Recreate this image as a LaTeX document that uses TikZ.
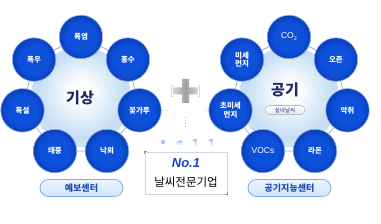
\documentclass[tikz,border=0pt]{standalone}
\usepackage{fontspec}
\setmainfont{Noto Sans CJK KR}
\newfontfamily\latinsans{Liberation Sans}
\usetikzlibrary{calc,shadows,backgrounds}
\definecolor{nb1}{HTML}{0D50DA}
\definecolor{nb2}{HTML}{0A3FBA}
\definecolor{hub1}{HTML}{E2EFFA}
\definecolor{hub2}{HTML}{C6DDF3}
\definecolor{navy}{HTML}{1B2A66}
\definecolor{linkc}{HTML}{9DB0D8}
\definecolor{pillb}{HTML}{7EAEE8}
\definecolor{pilltop}{HTML}{EAF5FE}
\definecolor{pillbot}{HTML}{CFE5FB}
\definecolor{pilltext}{HTML}{1F4DB3}
\definecolor{noone}{HTML}{1448C0}
\definecolor{iconc}{HTML}{A9CBF0}
\definecolor{boxline}{HTML}{D0D6DE}
\definecolor{tickc}{HTML}{6C8FD8}
\pgfdeclareradialshading{nodeblue}{\pgfpoint{0bp}{0bp}}{color(0bp)=(nb1); color(17bp)=(nb1); color(25bp)=(nb2); color(50bp)=(nb2)}
\pgfdeclareradialshading{hubsky}{\pgfpoint{0bp}{3bp}}{color(0bp)=(white); color(5bp)=(white); color(13bp)=(hub1); color(22bp)=(hub2); color(25bp)=(hub2!85!white); color(50bp)=(hub2!85!white)}
\tikzset{
  bub/.style={circle, minimum size=43.5pt, inner sep=0pt, shading=nodeblue, draw=white!55!nb1, line width=0.6pt, text=white, font=\bfseries\fontsize{7.5}{8.8}\selectfont, align=center},
  hub/.style={circle, minimum size=100pt, inner sep=0pt, shading=hubsky, draw=none},
  pill/.style={rounded corners=8.5pt, minimum width=83pt, minimum height=17pt, inner sep=0pt, draw=pillb, line width=0.8pt, top color=pilltop, bottom color=pillbot, text=pilltext, font=\bfseries\fontsize{9}{10}\selectfont},
  linkline/.style={draw=linkc, line width=0.8pt},
  hubtext/.style={text=navy, font=\bfseries\fontsize{15}{16}\selectfont, inner sep=0pt},
  faint/.style={draw=gray!25, line width=0.5pt},
  tickline/.style={draw=tickc, line width=0.6pt},
}
\begin{document}
\begin{tikzpicture}[x=1pt,y=1pt]
\useasboundingbox (0,0) rectangle (381,224);
\coordinate (c1) at (81,127);
\coordinate (c2) at (289,127);
% left cluster
\node[bub] (l0) at ($(c1)+(90:60)$) {폭염};
\node[bub] (l1) at ($(c1)+(141.43:60)$) {폭우};
\node[bub] (l2) at ($(c1)+(192.86:60)$) {폭설};
\node[bub] (l3) at ($(c1)+(244.29:60)$) {태풍};
\node[bub] (l4) at ($(c1)+(295.71:60)$) {낙뢰};
\node[bub] (l5) at ($(c1)+(347.14:60)$) {꽃가루};
\node[bub] (l6) at ($(c1)+(38.57:60)$) {홍수};
% right cluster
\node[bub] (r0) at ($(c2)+(90:60)$) {{\latinsans\mdseries\fontsize{8.5}{9}\selectfont CO\raisebox{-0.45ex}{\fontsize{5.5}{5.5}\selectfont 2}}};
\node[bub] (r1) at ($(c2)+(141.43:60)$) {미세\\먼지};
\node[bub] (r2) at ($(c2)+(192.86:60)$) {초미세\\먼지};
\node[bub] (r3) at ($(c2)+(244.29:60)$) {{\latinsans\mdseries\fontsize{8.5}{9}\selectfont VOCs}};
\node[bub] (r4) at ($(c2)+(295.71:60)$) {라돈};
\node[bub] (r5) at ($(c2)+(347.14:60)$) {악취};
\node[bub] (r6) at ($(c2)+(38.57:60)$) {오존};
\begin{pgfonlayer}{background}
  \fill[white] (0,0) rectangle (381,224);
  \node[hub] (h1) at (c1) {};
  \node[hub] (h2) at (c2) {};
  \draw[linkline] (l0) -- (l1) -- (l2) -- (l3) -- (l4) -- (l5) -- (l6) -- (l0);
  \draw[linkline] (r0) -- (r1) -- (r2) -- (r3) -- (r4) -- (r5) -- (r6) -- (r0);
\end{pgfonlayer}
% hub texts
\node[hubtext] (t1) at (80,126) {기상};
\node[hubtext] (t2) at (285,134) {공기};
\node[rounded corners=4.5pt, minimum width=40pt, minimum height=9pt, inner sep=0pt, draw=gray!55, line width=0.6pt, top color=white, bottom color=gray!18, text=pilltext!70!black, font=\fontsize{5.5}{6}\selectfont] (in) at (285,114) {실내날씨};
% pills
\node[pill] (p1) at (81.5,36) {예보센터};
\node[pill] (p2) at (289.5,36) {공기지능센터};
% faint side lines
\coordinate (fl) at (168,113);
\coordinate (fr) at (203,113);
\draw[faint] (l5.east) -- (fl);
\draw[faint] (r2.west) -- (fr);
% plus sign
\shade[left color=gray!35, right color=gray!35, middle color=gray!75]
  (182,121) -- (189,121) -- (189,129.5) -- (197.5,129.5) -- (197.5,136.5) -- (189,136.5)
  -- (189,145) -- (182,145) -- (182,136.5) -- (173.5,136.5) -- (173.5,129.5) -- (182,129.5) -- cycle;
\draw[gray!30, line width=0.5pt] (173.5,138.5) -- (171.5,138.5) -- (171.5,127.5) -- (173.5,127.5);
\draw[gray!30, line width=0.5pt] (197.5,138.5) -- (199.5,138.5) -- (199.5,127.5) -- (197.5,127.5);
% dotted line
\draw[gray!55, line width=0.9pt, dash pattern=on 0.9pt off 2pt] (185.5,107) -- (185.5,96);
% icons
\fill[iconc] (163,82) circle (2.3);
\fill[iconc] (177.6,81.2) circle (1.6) (180.4,81.8) circle (2.1) (176.6,79.6) rectangle (182.4,81.3);
\fill[iconc] (192.4,82.5) arc (180:0:2.6) -- cycle;
\draw[iconc, line width=0.6pt] (195,82.5) -- (195,79.2);
\fill[iconc] (208.4,82.5) arc (180:0:2.6) -- cycle;
\draw[iconc, line width=0.6pt] (211,82.5) -- (211,79.2);
% box
\node[draw=boxline, fill=white, line width=0.6pt, minimum width=82pt, minimum height=42pt, inner sep=0pt, drop shadow={opacity=0.12, shadow xshift=1pt, shadow yshift=-1pt}] (box) at (186,51) {};
\draw[tickline] ($(box.north west)+(0,-2.5)$) -- (box.north west) -- ($(box.north west)+(2.5,0)$);
\draw[tickline] ($(box.south east)+(0,2.5)$) -- (box.south east) -- ($(box.south east)+(-2.5,0)$);
\node[text=noone, font=\latinsans\bfseries\itshape\fontsize{13}{14}\selectfont, inner sep=0pt] (no1) at (186,61) {No.1};
\node[text=black, font=\fontsize{11.5}{13}\selectfont, inner sep=0pt] (firm) at (186,42) {날씨전문기업};
\end{tikzpicture}
\end{document}
